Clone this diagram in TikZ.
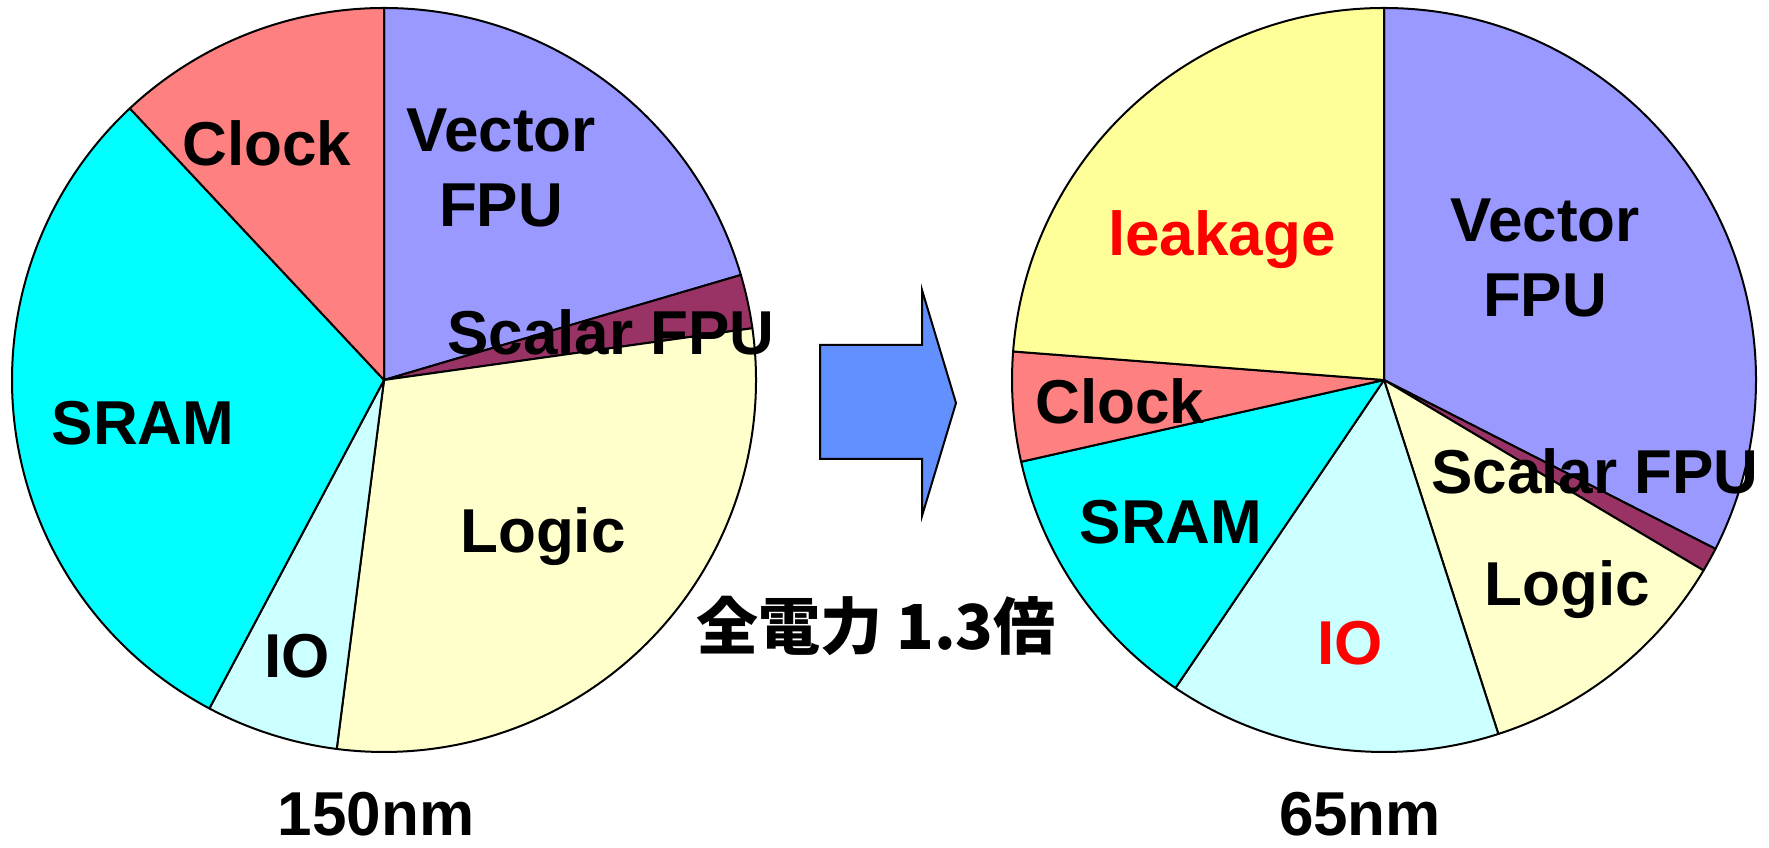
\documentclass[tikz,border=0pt]{standalone}
\usepackage{fontspec}
\setmainfont{Liberation Sans}
\newfontfamily\jpfont{Noto Sans CJK JP}
\definecolor{clockred}{HTML}{FF8080}
\definecolor{vecblue}{HTML}{9999FF}
\definecolor{scalarpurple}{HTML}{993366}
\definecolor{logicyellow}{HTML}{FFFFCC}
\definecolor{iocyan}{HTML}{CCFFFF}
\definecolor{sramcyan}{HTML}{00FFFF}
\definecolor{leakyellow}{HTML}{FFFF99}
\definecolor{arrowblue}{RGB}{99,144,255}
\begin{document}
\begin{tikzpicture}[x=1pt,y=1pt,
	slice/.style={draw=black,line width=2pt,line join=round},
	lbl/.style={font=\bfseries\fontsize{62}{75}\selectfont,inner sep=0pt,align=center}]
	\useasboundingbox (0,0) rectangle (1769,848);
	\coordinate (l) at (384,468);
	\coordinate (r) at (1384,468);
	% 150nm
	\draw[slice,fill=vecblue] (l) -- ++(90:372) arc[start angle=90,end angle=16.4,radius=372] -- cycle;
	\draw[slice,fill=scalarpurple] (l) -- ++(16.4:372) arc[start angle=16.4,end angle=8,radius=372] -- cycle;
	\draw[slice,fill=logicyellow] (l) -- ++(8:372) arc[start angle=8,end angle=-97.3,radius=372] -- cycle;
	\draw[slice,fill=iocyan] (l) -- ++(-97.3:372) arc[start angle=-97.3,end angle=-118,radius=372] -- cycle;
	\draw[slice,fill=sramcyan] (l) -- ++(-118:372) arc[start angle=-118,end angle=-226.9,radius=372] -- cycle;
	\draw[slice,fill=clockred] (l) -- ++(133.1:372) arc[start angle=133.1,end angle=90,radius=372] -- cycle;
	% 65nm
	\draw[slice,fill=vecblue] (r) -- ++(90:372) arc[start angle=90,end angle=-27,radius=372] -- cycle;
	\draw[slice,fill=scalarpurple] (r) -- ++(-27:372) arc[start angle=-27,end angle=-30.8,radius=372] -- cycle;
	\draw[slice,fill=logicyellow] (r) -- ++(-30.8:372) arc[start angle=-30.8,end angle=-72.1,radius=372] -- cycle;
	\draw[slice,fill=iocyan] (r) -- ++(-72.1:372) arc[start angle=-72.1,end angle=-124.1,radius=372] -- cycle;
	\draw[slice,fill=sramcyan] (r) -- ++(-124.1:372) arc[start angle=-124.1,end angle=-167.3,radius=372] -- cycle;
	\draw[slice,fill=clockred] (r) -- ++(-167.3:372) arc[start angle=-167.3,end angle=-184.4,radius=372] -- cycle;
	\draw[slice,fill=leakyellow] (r) -- ++(175.6:372) arc[start angle=175.6,end angle=90,radius=372] -- cycle;
	% arrow
	\draw[line width=2pt,line join=miter,fill=arrowblue] (820,389) -- (922,389) -- (922,332) -- (956,445)
		-- (922,558) -- (922,503) -- (820,503) -- cycle;
	% labels
	\node[lbl,anchor=base] (clockL) at (267,682) {Clock};
	\node[lbl] (vecL) at (501,680) {Vector\\FPU};
	\node[lbl,anchor=base] (scalarL) at (611,493) {Scalar FPU};
	\node[lbl,anchor=base] (sramL) at (143,403) {SRAM};
	\node[lbl,anchor=base] (logicL) at (543,295) {Logic};
	\node[lbl,anchor=base] (ioL) at (297,170) {IO};
	\node[lbl,anchor=base] (nmL) at (376,12) {150nm};
	\node[lbl,anchor=base,text=red] (leakR) at (1222,592) {leakage};
	\node[lbl] (vecR) at (1545,590) {Vector\\FPU};
	\node[lbl,anchor=base] (clockR) at (1120,424) {Clock};
	\node[lbl,anchor=base] (sramR) at (1171,304) {SRAM};
	\node[lbl,anchor=base] (scalarR) at (1595,354) {Scalar FPU};
	\node[lbl,anchor=base] (logicR) at (1567,242) {Logic};
	\node[lbl,anchor=base,text=red] (ioR) at (1350,183) {IO};
	\node[lbl,anchor=base] (nmR) at (1360,12) {65nm};
	\node[inner sep=0pt,font=\jpfont\bfseries\fontsize{62}{75}\selectfont] (total) at (876,222) {全電力 1.3倍};
\end{tikzpicture}
\end{document}
